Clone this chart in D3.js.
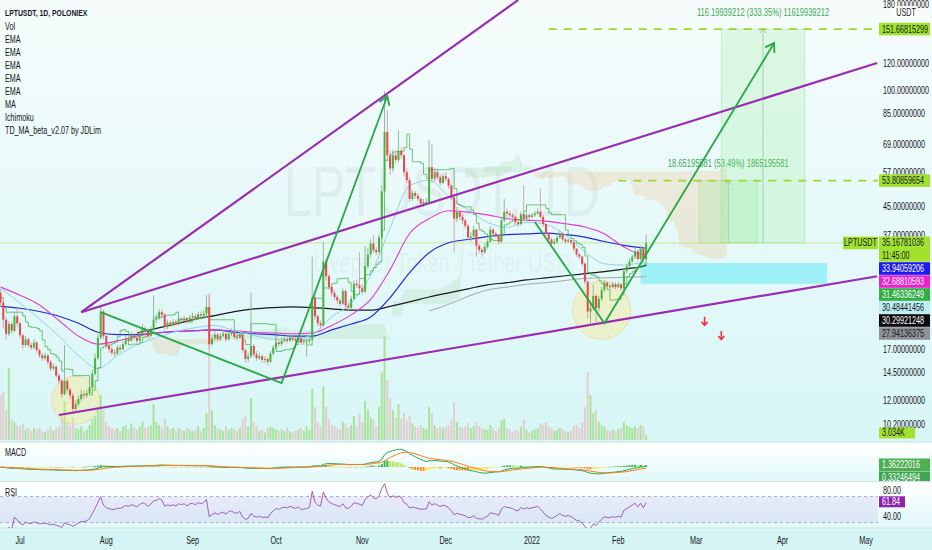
<!DOCTYPE html>
<html><head><meta charset="utf-8">
<script src="https://cdn.jsdelivr.net/npm/d3@7/dist/d3.min.js"></script>
<style>
html,body{margin:0;padding:0;background:#fff;overflow:hidden}
svg{display:block}
text{font-family:"Liberation Sans",Arial,sans-serif}
</style></head><body>
<svg id="c" width="932" height="550"></svg>
<script>
// ---------------- DATA ----------------
const startDate = "2021-06-24";
const firstOpen = 25.0;
const close = [
23.4,20.8,18.9,20.2,19.3,21.3,20.3,
18.7,17.5,18.2,17.5,17.2,17.8,16.9,
16.3,16.0,16.3,15.6,14.9,15.1,14.2,
13.7,12.5,13.7,12.9,12.4,11.3,11.7,
12.1,12.5,12.4,12.6,13.1,14.4,16.0,
18.4,22.0,18.6,17.4,17.0,16.6,16.5,
17.2,17.0,17.6,18.3,18.0,18.7,18.4,
18.0,18.9,19.6,19.3,18.6,19.4,20.8,
21.0,21.9,21.5,19.8,20.4,20.1,20.5,
20.2,20.9,20.7,21.0,20.5,21.1,21.3,
21.0,21.6,21.4,21.7,22.7,17.6,18.3,
18.8,18.2,18.6,18.9,18.2,18.9,19.1,
18.5,18.4,18.8,16.9,15.9,16.2,17.4,
16.4,16.0,16.2,15.8,15.9,15.6,16.5,
17.2,17.8,17.6,18.0,18.2,18.0,18.4,
18.2,18.0,18.3,17.8,17.9,18.0,18.2,
24.2,21.3,20.3,20.0,31.0,28.0,26.0,
25.0,24.3,23.7,23.2,25.3,22.9,22.6,
24.0,26.6,26.3,25.8,25.2,30.0,32.5,
35.0,33.5,33.0,36.5,50.0,75.0,64.0,
58.5,64.0,62.0,66.0,64.0,57.0,54.0,
47.5,49.5,48.5,47.5,46.0,46.5,46.5,
59.0,54.5,57.0,55.0,53.0,55.5,54.5,
52.0,48.0,41.5,43.5,42.0,41.0,39.5,
36.5,36.8,38.5,34.5,33.5,33.0,34.2,
35.5,38.5,37.5,37.0,35.5,41.0,43.5,
43.0,42.5,42.0,40.5,40.0,42.8,41.5,
42.5,42.0,42.5,43.0,43.5,42.0,40.0,
37.5,36.0,35.0,35.5,36.5,37.5,36.0,
35.5,35.8,35.3,33.8,32.5,32.0,30.5,
27.0,22.0,22.5,24.5,22.5,24.0,25.5,
26.8,26.2,26.0,26.5,26.0,26.5,25.8,
29.0,30.0,31.0,32.0,33.2,31.5,33.8,31.5,35.16781036];
const high = [
25.6,23.8,21.2,20.6,20.5,21.9,22.6,
20.5,18.9,18.6,18.4,17.8,18.2,18.0,
17.1,16.6,16.6,16.5,15.8,15.4,15.2,
14.4,13.9,17.5,13.9,13.1,12.6,12.0,
12.4,12.9,12.8,12.9,14.0,14.8,16.5,
18.9,22.8,22.3,18.9,17.8,17.3,17.0,
17.5,17.6,18.0,18.7,18.6,19.1,19.0,
18.7,19.2,20.2,19.9,19.5,19.8,24.6,
21.6,22.4,22.3,21.8,20.8,20.7,20.9,
20.8,21.3,21.2,21.4,21.2,21.5,21.8,
21.6,22.0,22.0,22.2,24.6,24.6,18.8,
19.3,19.0,19.0,19.4,19.1,19.3,19.6,
19.3,18.9,19.2,18.9,17.1,16.6,25.0,
17.6,16.8,16.6,16.4,16.2,16.1,16.8,
17.5,18.2,18.2,18.4,18.6,18.5,18.8,
18.7,18.5,18.7,18.5,18.3,18.4,18.6,
32.0,24.8,21.6,20.7,35.5,31.5,28.4,
26.3,25.4,24.6,24.0,25.8,25.6,23.4,
24.5,27.2,27.4,33.0,26.5,34.5,34.0,
36.0,37.0,34.2,37.2,52.0,99.0,87.0,
66.0,66.5,66.0,76.0,67.5,64.5,58.0,
55.0,50.5,50.2,49.5,48.0,47.5,47.6,
71.0,69.0,58.5,57.8,55.8,56.5,57.0,
55.0,52.5,48.5,45.0,44.0,42.8,41.5,
40.0,37.8,39.5,38.8,35.0,34.0,35.0,
36.2,39.5,39.0,38.0,37.3,42.0,47.5,
44.5,43.8,43.0,42.4,41.0,43.5,52.0,
43.2,43.0,43.2,43.8,44.5,51.0,42.5,
40.3,37.8,36.4,36.2,37.0,38.2,37.8,
36.4,36.3,36.0,35.5,34.0,32.8,32.2,
30.8,27.2,23.5,26.5,24.8,24.5,26.0,
27.3,27.0,26.6,27.0,26.9,27.0,26.7,
29.5,30.6,31.6,32.5,34.0,33.6,34.6,34.4,37.2];
const low = [
22.8,19.6,18.2,18.6,18.9,19.1,19.9,
18.3,17.1,17.3,17.2,16.9,17.0,16.6,
16.0,15.7,15.8,15.3,14.6,14.7,14.0,
13.4,12.2,12.4,12.6,12.1,10.9,11.1,
11.5,11.9,12.1,12.2,12.5,12.9,14.2,
15.8,18.1,18.2,17.1,16.6,16.3,16.1,
16.4,16.7,16.9,17.4,17.7,17.9,18.1,
17.7,17.9,18.7,19.0,18.3,18.5,19.2,
20.3,20.8,21.1,19.4,19.5,19.8,19.9,
19.9,20.0,20.4,20.5,20.2,20.3,20.8,
20.7,20.8,21.1,21.2,21.5,17.0,17.4,
18.0,17.9,18.0,18.4,17.9,18.0,18.6,
18.2,18.0,18.2,16.6,15.5,15.6,16.0,
16.1,15.7,15.8,15.5,15.5,15.3,15.5,
16.3,17.0,17.3,17.4,17.8,17.7,17.9,
17.9,17.7,17.8,17.5,17.5,16.2,17.7,
18.0,20.9,19.9,19.6,19.8,27.2,25.5,
24.5,23.8,23.2,22.8,23.0,22.5,22.1,
22.4,23.8,25.8,25.3,24.6,24.9,29.5,
31.8,32.8,32.3,32.7,36.0,49.0,62.0,
56.0,57.0,60.5,61.0,62.5,55.5,53.0,
46.5,46.8,47.5,46.8,45.2,45.0,45.5,
46.0,53.0,53.5,54.0,52.2,52.5,53.5,
51.0,47.2,33.0,40.5,41.0,40.0,38.8,
35.8,35.5,36.3,32.0,32.8,32.0,32.6,
33.8,35.2,36.8,36.2,34.8,35.2,40.5,
42.0,41.8,41.2,39.8,39.2,39.6,40.8,
41.0,41.3,41.6,42.0,42.6,41.5,39.2,
37.0,35.3,34.3,34.6,35.0,36.2,35.6,
35.0,35.1,34.8,33.2,32.0,31.5,30.0,
26.5,21.0,20.3,22.2,20.5,22.0,23.6,
25.2,25.8,25.5,25.7,25.6,25.8,25.4,
25.6,28.6,29.6,30.6,31.5,31.0,31.2,30.8,31.3];
const volumeK = [
30,32,20,48,14,12,10,
9,11,7,8,6,8,7,
8,6,5,7,9,6,8,
9,18,26,12,10,15,8,
7,9,6,7,10,14,16,
22,30,20,12,9,8,7,
8,6,9,10,7,11,8,
7,9,12,8,9,10,24,
12,10,8,14,9,7,8,
6,8,7,6,8,7,6,
7,9,6,8,18,98,20,
10,8,7,6,9,7,8,
7,6,8,14,16,9,28,
12,9,6,7,5,8,9,
8,7,6,7,6,8,6,
5,6,7,8,6,9,7,
34,22,12,9,36,22,14,
10,9,8,7,12,11,8,
10,16,9,18,12,26,20,
15,14,9,22,45,69,40,
28,20,15,24,14,18,13,
16,11,9,8,10,8,7,
22,18,10,8,9,8,9,
10,14,25,12,9,8,9,
11,8,9,12,9,8,7,
7,10,8,6,8,13,14,
8,7,5,7,6,9,14,
7,5,6,7,8,11,10,
12,9,8,6,7,8,7,
6,5,6,9,10,8,12,
22,45,30,18,20,12,10,
9,7,6,7,6,7,8,
12,10,9,8,9,8,10,9,3.034];

// moving averages, weekly samples
const maDates = ["2021-06-24","2021-07-01","2021-07-08","2021-07-15","2021-07-22","2021-07-29","2021-08-05","2021-08-12","2021-08-19","2021-08-26","2021-09-02","2021-09-09","2021-09-16","2021-09-23","2021-09-30","2021-10-07","2021-10-14","2021-10-21","2021-10-28","2021-11-04","2021-11-11","2021-11-18","2021-11-25","2021-12-02","2021-12-09","2021-12-16","2021-12-23","2021-12-30","2022-01-06","2022-01-13","2022-01-20","2022-01-27","2022-02-03","2022-02-10","2022-02-11"];
const emaLightBlue = [25.8,23.3,20.9,18.6,16.3,14.9,16.3,17.5,18.4,19.2,19.7,20.0,19.3,18.7,18.2,18.2,18.8,21.2,23.3,28.2,39.0,51.9,54.0,48.4,44.1,40.5,39.1,40.5,39.9,37.1,33.1,30.5,30.2,30.7,30.48];
const emaMagenta = [26.0,24.6,23.0,20.7,18.6,17.6,18.0,18.6,19.0,19.2,19.3,19.4,19.3,19.1,19.0,18.9,19.0,20.0,21.5,23.9,29.3,37.5,41.5,43.8,43.4,42.6,41.5,41.1,40.8,40.1,39.2,37.4,34.2,32.5,32.69];
const emaBlue = [22.8,22.5,22.0,21.3,20.3,19.1,18.8,18.8,19.0,19.2,19.3,19.4,19.1,18.9,18.8,18.6,18.6,19.4,20.2,21.2,24.2,28.7,32.9,35.2,36.0,36.7,37.2,37.4,37.6,37.2,36.6,35.5,34.6,34.0,33.94];
const maBlack = [null,null,null,null,null,null,null,19.0,19.6,20.2,20.9,21.4,22.0,22.4,22.6,22.7,22.6,22.4,22.2,22.2,22.8,23.5,24.3,25.0,25.7,26.4,26.8,27.3,27.7,28.1,28.5,28.9,29.4,30.0,30.30];
const emaGray = [null,null,null,null,null,null,null,null,null,null,null,null,null,null,null,null,null,null,null,null,null,null,22.1,23.1,24.4,25.5,26.0,26.5,26.8,27.2,27.6,27.7,27.8,27.9,27.94];

const priceTicks = [180,120,100,85,69,57,45,37,17,14.5,12,10.2];
const monthTicks = ["2021-07-01","2021-08-01","2021-09-01","2021-10-01","2021-11-01","2021-12-01","2022-01-01","2022-02-01","2022-03-01","2022-04-01","2022-05-01"];
const monthLabels = ["Jul","Aug","Sep","Oct","Nov","Dec","2022","Feb","Mar","Apr","May"];
const legendLines = ["LPTUSDT, 1D, POLONIEX","Vol","EMA","EMA","EMA","EMA","EMA","MA","Ichimoku","TD_MA_beta_v2.07 by JDLim"];
const lastPrice = 35.16781036;
const countdown = "11:45:00";
const seriesLastValues = [33.94059206, 32.68810593, 31.46336249, 30.48441456, 30.29921248, 27.94136375];
const lastVolumeText = "3.034K";
const macdLast = 1.36222016, signalLast = 0.33246494;
const rsiLast = 61.84;
const rsiTicks = [80, 40];
const rsiBand = [70, 30];
const ichimokuPeriods = [20, 60, 120, 30]; // conversion, base, span B, displacement
const stepPeriod = 9;

// drawings (date, price)
const purpleLines = [
  [["2021-07-23",21.9],["2021-12-27",185]],
  [["2021-07-23",21.9],["2022-05-05",120.3]],
  [["2021-07-15",10.85],["2022-05-05",28.0]]];
const greenPaths = [
  [["2021-07-30",21.9],["2021-10-03",13.5],["2021-11-10",96]],
  [["2022-01-02",40.6],["2022-01-27",20.3],["2022-03-29",137.9]]];
const circles = [["2021-07-21",12.0],["2022-01-26",22.2]];
const zoneRect = [["2022-02-09",30.65],["2022-04-17",26.6]];
const rangeTools = [
  {from:"2022-03-02", to:"2022-03-23", p0:35.16781036, p1:53.80859654, text:"18.65195581 (53.49%) 1865195581"},
  {from:"2022-03-10", to:"2022-04-09", p0:35.16781036, p1:151.66815299, text:"116.19939212 (333.35%) 11619939212"}];
const targetLines = [["2022-01-07",151.66815299],["2022-02-01",53.80859654]];
const redArrows = [["2022-03-04",20.5],["2022-03-10",18.6]];

// ---------------- CHART ----------------
const parse = d3.utcParse("%Y-%m-%d");
const d0 = parse(startDate);
const n = close.length;
const bars = close.map((c,i)=>({date:d3.utcDay.offset(d0,i), o:i?close[i-1]:firstOpen, c, h:high[i], l:low[i], v:volumeK[i]}));

const PR = 878;
const MAIN_B = 441;
const x = d3.scaleUtc().domain([parse("2021-07-01"), parse("2022-05-01")]).range([20, 866]);
const y = d3.scaleLog().domain([10.2, 180]).range([424, 4]);
const yV = d3.scaleLinear().domain([0, 100]).range([440, 290]);
const yM = d3.scaleLinear().domain([-1, 1]).range([468.6, 465.4]);
const yR = d3.scaleLinear().domain([40, 80]).range([516, 490]);

const SX = 0.72;
function T(parent, tx, ty, s, o={}){
  const g = parent.append("g").attr("transform",`translate(${tx},${ty}) scale(${o.sx||SX},1)`);
  return g.append("text").attr("text-anchor",o.anchor||"start").attr("dy",o.dy==null?"0.35em":o.dy)
    .attr("font-size",o.size||10).attr("font-weight",o.weight||"normal").attr("fill",o.fill||"#131722").text(s);
}

const svg = d3.select("#c");
const defs = svg.append("defs");
function vgrad(id,c0,c1){const g=defs.append("linearGradient").attr("id",id).attr("x1",0).attr("y1",0).attr("x2",0).attr("y2",1);
  g.append("stop").attr("offset",0).attr("stop-color",c0); g.append("stop").attr("offset",1).attr("stop-color",c1);}
vgrad("gMain","#f6fcfc","#d8f6f6");
vgrad("gSub","#ffffff","#e0f8f8");
function clip(id,x0,y0,w,h){defs.append("clipPath").attr("id",id).append("rect").attr("x",x0).attr("y",y0).attr("width",w).attr("height",h);}
clip("cMain",0,0,PR,MAIN_B);
clip("cMacd",0,443,PR,38);
clip("cMacdAx",0,443,932,38);
clip("cRsi",0,482,PR,46);

svg.append("rect").attr("width",932).attr("height",550).attr("fill","#d5f5f4");
svg.append("rect").attr("x",0).attr("y",0).attr("width",932).attr("height",MAIN_B).attr("fill","url(#gMain)");
svg.append("rect").attr("x",0).attr("y",443).attr("width",932).attr("height",38).attr("fill","url(#gSub)");
svg.append("rect").attr("x",0).attr("y",482).attr("width",932).attr("height",46).attr("fill","url(#gSub)");
svg.append("line").attr("x1",0).attr("x2",932).attr("y1",442).attr("y2",442).attr("stroke","#d7e3e6");
svg.append("line").attr("x1",0).attr("x2",932).attr("y1",481.5).attr("y2",481.5).attr("stroke","#d7e3e6");
svg.append("line").attr("x1",0).attr("x2",932).attr("y1",528).attr("y2",528).attr("stroke","#d7e3e6");

const main = svg.append("g").attr("clip-path","url(#cMain)");

// watermark
T(main,442,216,"LPTUSDT, 1D",{anchor:"middle",size:70,fill:"rgba(0,0,0,0.045)",dy:0});
T(main,442,272,"Livepeer Token / Tether USD",{anchor:"middle",size:28,fill:"rgba(0,0,0,0.045)",dy:0});

// helpers
function maxWin(arr,i,k){let m=-Infinity;for(let j=Math.max(0,i-k+1);j<=i;j++)m=Math.max(m,arr[j]);return m;}
function minWin(arr,i,k){let m=Infinity;for(let j=Math.max(0,i-k+1);j<=i;j++)m=Math.min(m,arr[j]);return m;}
function mid(i,k){return (maxWin(high,i,k)+minWin(low,i,k))/2;}
function ema(arr,k){const a=2/(k+1);const out=[];arr.forEach((v,i)=>out.push(i?out[i-1]+a*(v-out[i-1]):v));return out;}

// ichimoku cloud
const [pc,pb,ps,pd] = ichimokuPeriods;
const cloud = bars.map((b,i)=>({date:d3.utcDay.offset(d0,i+pd-1), a:(mid(i,pc)+mid(i,pb))/2, b:mid(i,ps)}));
const segs=[]; let cur=null;
cloud.forEach(p=>{const s=p.a>=p.b; if(!cur||cur.s!==s){const prev=cur?cur.pts[cur.pts.length-1]:null; cur={s,pts:prev?[prev]:[]}; segs.push(cur);} cur.pts.push(p);});
const cloudArea = d3.area().x(d=>x(d.date)).y0(d=>y(d.a)).y1(d=>y(d.b));
main.append("g").selectAll("path").data(segs).join("path").attr("d",d=>cloudArea(d.pts))
  .attr("fill",d=>d.s?"rgba(140,200,130,0.17)":"rgba(240,190,130,0.26)");

// volume
main.append("g").selectAll("rect").data(bars).join("rect")
  .attr("x",d=>x(d.date)-1).attr("width",2).attr("y",d=>yV(d.v)).attr("height",d=>yV(0)-yV(d.v))
  .attr("fill",d=>d.c>=d.o?"rgba(120,210,60,0.5)":"rgba(235,150,150,0.42)");

// zone rect
main.append("rect").attr("x",x(parse(zoneRect[0][0]))).attr("y",y(zoneRect[0][1]))
  .attr("width",x(parse(zoneRect[1][0]))-x(parse(zoneRect[0][0]))).attr("height",y(zoneRect[1][1])-y(zoneRect[0][1]))
  .attr("fill","rgba(110,235,245,0.6)");

// range tools
rangeTools.forEach(t=>{
  const x0=x(parse(t.from)), x1=x(parse(t.to)), ya=y(t.p0), yb=y(t.p1), xm=(x0+x1)/2;
  main.append("rect").attr("x",x0).attr("y",yb).attr("width",x1-x0).attr("height",ya-yb).attr("fill","rgba(130,235,130,0.2)")
    .attr("stroke","rgba(110,200,120,0.3)").attr("stroke-width",0.8);
  main.append("line").attr("x1",xm).attr("x2",xm).attr("y1",ya).attr("y2",yb).attr("stroke","rgba(90,170,110,0.55)").attr("stroke-width",0.8);
  main.append("path").attr("d",`M${xm-3},${yb+4}L${xm},${yb}L${xm+3},${yb+4}`).attr("fill","none").attr("stroke","rgba(90,170,110,0.7)").attr("stroke-width",0.8);
  T(main,xm,yb-17,t.text,{anchor:"middle",size:10.5,fill:"#3aa852"});
});

// price line
main.append("line").attr("x1",0).attr("x2",PR).attr("y1",y(lastPrice)).attr("y2",y(lastPrice)).attr("stroke","rgba(170,225,80,0.55)").attr("stroke-width",1);

// target dashed lines
targetLines.forEach(t=>{
  main.append("line").attr("x1",x(parse(t[0]))).attr("x2",PR).attr("y1",y(t[1])).attr("y2",y(t[1]))
    .attr("stroke","#9fd62c").attr("stroke-width",1.8).attr("stroke-dasharray","8,7");
});

// yellow circles
const circleR=[24,29];
main.append("g").selectAll("circle").data(circles).join("circle")
  .attr("cx",d=>x(parse(d[0]))).attr("cy",d=>y(d[1])).attr("r",(d,i)=>circleR[i])
  .attr("fill","rgba(255,230,120,0.35)").attr("stroke","rgba(245,200,120,0.55)").attr("stroke-width",1);

// moving averages
const maPts = arr=>arr.map((v,i)=>({date:parse(maDates[i]),v})).filter(d=>d.v!=null);
const maLine = d3.line().x(d=>x(d.date)).y(d=>y(d.v)).curve(d3.curveMonotoneX);
[[emaGray,"#a3a7ab",1],[maBlack,"#1b1b1b",1.2],[emaBlue,"#2727d8",1.2],[emaMagenta,"#e03ad8",1.1],[emaLightBlue,"#8fd3ea",1]]
  .forEach(([arr,col,w])=>main.append("path").attr("d",maLine(maPts(arr))).attr("fill","none").attr("stroke",col).attr("stroke-width",w));

// stepped line
const stepVals = bars.map((b,i)=>mid(i,stepPeriod));
const stepLine = d3.line().x((d,i)=>x(bars[i].date)).y(d=>y(d)).curve(d3.curveStepAfter);
main.append("path").attr("d",stepLine(stepVals)).attr("fill","none").attr("stroke","#4caf50").attr("stroke-width",0.9).attr("opacity",0.85);

// candles
const cg = main.append("g");
cg.selectAll("line").data(bars).join("line")
  .attr("x1",d=>x(d.date)).attr("x2",d=>x(d.date)).attr("y1",d=>y(d.h)).attr("y2",d=>y(d.l))
  .attr("stroke",d=>d.c>=d.o?"#8fb08f":"#c9a0a0").attr("stroke-width",0.9);
cg.selectAll("rect").data(bars).join("rect")
  .attr("x",d=>x(d.date)-1).attr("width",2)
  .attr("y",d=>y(Math.max(d.o,d.c))).attr("height",d=>Math.max(0.8,Math.abs(y(d.o)-y(d.c))))
  .attr("fill",d=>d.c>=d.o?"#49b43c":"#f0434d");

// purple trend lines
purpleLines.forEach(l=>{
  main.append("line").attr("x1",x(parse(l[0][0]))).attr("y1",y(l[0][1])).attr("x2",x(parse(l[1][0]))).attr("y2",y(l[1][1]))
    .attr("stroke","#9a2bb5").attr("stroke-width",2.2);
});
// green paths with arrow
greenPaths.forEach(p=>{
  const pts=p.map(d=>[x(parse(d[0])),y(d[1])]);
  main.append("path").attr("d",d3.line()(pts)).attr("fill","none").attr("stroke","#25a845").attr("stroke-width",1.8);
  const [xa,ya]=pts[pts.length-2],[xb,yb]=pts[pts.length-1];
  const ang=Math.atan2(yb-ya,xb-xa), L=10;
  const a1=ang+Math.PI*0.82, a2=ang-Math.PI*0.82;
  main.append("path").attr("d",`M${xb+L*Math.cos(a1)},${yb+L*Math.sin(a1)}L${xb},${yb}L${xb+L*Math.cos(a2)},${yb+L*Math.sin(a2)}`)
    .attr("fill","none").attr("stroke","#25a845").attr("stroke-width",1.8);
});
// red arrows
redArrows.forEach(a=>{
  const cx=x(parse(a[0])), cy=y(a[1]);
  main.append("path").attr("d",`M${cx},${cy-5}L${cx},${cy+3}M${cx-3},${cy}L${cx},${cy+3.5}L${cx+3},${cy}`)
    .attr("fill","none").attr("stroke","#ef3340").attr("stroke-width",1.6);
});

// legend
legendLines.forEach((t,i)=>T(svg,5,13+i*13.1,t,{size:i?10:9.5,weight:i?"normal":"bold"}));

// price axis
const fmt = d3.format(".8f");
const ax = svg.append("g");
priceTicks.forEach(v=>T(ax,883,y(v),fmt(v)));
ax.append("rect").attr("x",894).attr("y",6).attr("width",24).attr("height",12).attr("rx",2).attr("fill","#ffffff").attr("opacity",0.92);
T(ax,906,12,"USDT",{anchor:"middle"});

function tag(parent,yc,h,fill,txtCol,lines,x0=879,w=51){
  parent.append("rect").attr("x",x0).attr("y",yc).attr("width",w).attr("height",h).attr("fill",fill);
  lines.forEach((t,i)=>T(parent,x0+3,yc+h/lines.length/2+i*(h/lines.length),t,{fill:txtCol}));
}
targetLines.forEach(t=>tag(ax,y(t[1])-6.3,12.6,"#a3e22c","#131722",[fmt(t[1])]));
const LH=12.6;
const tags=[{v:lastPrice,h:LH*2,fill:"#a3e22c",col:"#131722",lines:[fmt(lastPrice),countdown]}];
const tagStyles=[["#1c1cf0","#ffffff"],["#ea22cf","#ffffff"],["#2fae44","#ffffff"],["#bdeef2","#131722"],["#0b0b0b","#ffffff"],["#8e9296","#131722"]];
seriesLastValues.forEach((v,i)=>tags.push({v,h:LH,fill:tagStyles[i][0],col:tagStyles[i][1],lines:[fmt(v)]}));
tags.sort((a,b)=>y(a.v)-y(b.v));
let bottom=-1e9;
tags.forEach(t=>{let top=y(t.v)-LH/2; if(top<bottom)top=bottom; tag(ax,top,t.h,t.fill,t.col,t.lines); bottom=top+t.h+0.4;});
ax.append("rect").attr("x",843).attr("y",y(lastPrice)-6.3).attr("width",35).attr("height",12.6).attr("fill","#a3e22c");
T(ax,860.5,y(lastPrice),"LPTUSDT",{anchor:"middle"});
tag(ax,yV(volumeK[n-1])-8,11,"#a3e22c","#131722",[lastVolumeText],879,36);

// MACD
const e12=ema(close,12), e26=ema(close,26);
const macd=e12.map((v,i)=>v-e26[i]); const sig=ema(macd,9); const hist=macd.map((v,i)=>v-sig[i]);
const mg=svg.append("g").attr("clip-path","url(#cMacd)");
mg.selectAll("rect").data(hist).join("rect")
  .attr("x",(d,i)=>x(bars[i].date)-1).attr("width",2)
  .attr("y",d=>Math.min(yM(d),yM(0))).attr("height",d=>Math.max(0.5,Math.abs(yM(d)-yM(0))))
  .attr("fill",(d,i)=>{const p=i?hist[i-1]:d; return d>=0?(d>=p?"#35b54a":"#b8e655"):(d<p?"#ff8c1a":"#ffe14a");});
const ml=d3.line().x((d,i)=>x(bars[i].date)).y(d=>yM(d));
mg.append("path").attr("d",ml(macd)).attr("fill","none").attr("stroke","#2ea44f").attr("stroke-width",1);
mg.append("path").attr("d",ml(sig)).attr("fill","none").attr("stroke","#ff7a1a").attr("stroke-width",1);
T(svg,5,452,"MACD");
{const gcl=svg.append("g").attr("clip-path","url(#cMacdAx)");
 const t1=yM(macdLast)-6.3; const t2=Math.max(yM(signalLast)-6.3,t1+13);
 tag(gcl,t2,12.6,"#3fa64e","#ffffff",[fmt(signalLast)]);
 tag(gcl,t1,12.6,"#4caf50","#ffffff",[fmt(macdLast)]);}

// RSI
const rsi=[]; {let ag=0,al=0; for(let i=1;i<n;i++){const ch=close[i]-close[i-1]; const g=Math.max(ch,0), l=Math.max(-ch,0);
  if(i<=14){ag+=(g-ag)/i; al+=(l-al)/i;} else {ag=(ag*13+g)/14; al=(al*13+l)/14;} rsi.push({i, v: al===0?100:100-100/(1+ag/al)});}}
const rg=svg.append("g").attr("clip-path","url(#cRsi)");
rg.append("rect").attr("x",0).attr("width",PR).attr("y",yR(rsiBand[0])).attr("height",yR(rsiBand[1])-yR(rsiBand[0])).attr("fill","rgba(140,110,220,0.12)");
rsiBand.forEach(v=>rg.append("line").attr("x1",0).attr("x2",PR).attr("y1",yR(v)).attr("y2",yR(v)).attr("stroke","#a49ab8").attr("stroke-dasharray","3,3").attr("stroke-width",0.8));
rg.append("path").attr("d",d3.line().x(d=>x(bars[d.i].date)).y(d=>yR(d.v))(rsi)).attr("fill","none").attr("stroke","#9a4db3").attr("stroke-width",0.9);
T(svg,5,492,"RSI");
rsiTicks.forEach(v=>T(svg,883,yR(v),d3.format(".2f")(v)));
tag(svg,yR(rsiLast)-5.5,11,"#8e24aa","#ffffff",[d3.format(".2f")(rsiLast)],879,26);

// time axis
monthTicks.forEach((d,i)=>T(svg,x(parse(d)),540,monthLabels[i],{anchor:"middle"}));
</script>
</body></html>
